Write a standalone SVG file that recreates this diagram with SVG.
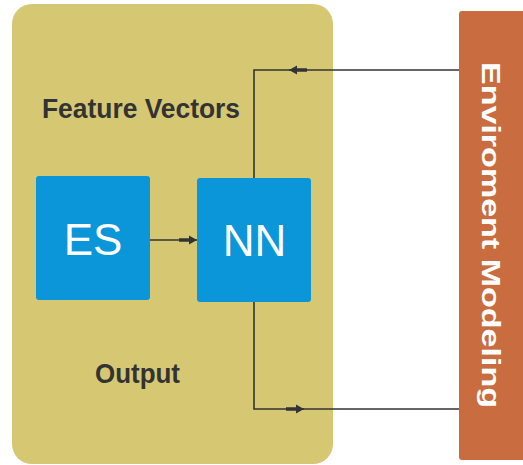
<svg xmlns="http://www.w3.org/2000/svg" width="523" height="465" viewBox="0 0 523 465">
  <style>
    .panel { fill: #D6C873; }
    .block { fill: #0A96D8; }
    .env { fill: #C96D40; }
    .label { font-family: "Liberation Sans", Arial, sans-serif; font-weight: bold; fill: #333333; font-size: 27px; }
    .blocktext { font-family: "Liberation Sans", Arial, sans-serif; fill: #FFFFFF; font-size: 44px; text-anchor: middle; }
    .envtext { font-family: "Liberation Sans", Arial, sans-serif; font-weight: bold; fill: #FFFFFF; font-size: 26px; }
    .wire { fill: none; stroke: #333333; stroke-width: 1.6; }
  </style>
  <defs>
    <marker id="arrow" viewBox="0 0 18 10" refX="18" refY="5" markerWidth="18" markerHeight="10" markerUnits="userSpaceOnUse" orient="auto">
      <path d="M0,3.2 L10,3.2 L10,0.5 L18,5 L10,9.5 L10,6.8 L0,6.8 Z" fill="#333333"/>
    </marker>
  </defs>

  <!-- processing panel -->
  <g id="panel">
    <rect class="panel" x="12" y="4" width="321" height="460" rx="20" ry="20"/>
    <text class="label" x="42" y="118" textLength="198" lengthAdjust="spacingAndGlyphs">Feature Vectors</text>
    <text class="label" x="95" y="383" textLength="85" lengthAdjust="spacingAndGlyphs">Output</text>
  </g>

  <!-- environment modeling bar -->
  <g id="environment">
    <rect class="env" x="459" y="11" width="70" height="449" rx="3" ry="3"/>
    <text class="envtext" transform="translate(482,62) rotate(90)" textLength="346" lengthAdjust="spacingAndGlyphs">Enviroment Modeling</text>
  </g>

  <!-- ES block -->
  <g id="es">
    <rect class="block" x="36" y="176" width="114" height="124" rx="3" ry="3"/>
    <text class="blocktext" x="93" y="255">ES</text>
  </g>

  <!-- NN block -->
  <g id="nn">
    <rect class="block" x="197" y="178" width="114" height="124" rx="3" ry="3"/>
    <text class="blocktext" x="254.5" y="256">NN</text>
  </g>

  <!-- connectors -->
  <g id="connectors">
    <!-- ES to NN -->
    <path class="wire" d="M150,240 L197,240" marker-end="url(#arrow)"/>
    <!-- environment back to NN -->
    <path class="wire" d="M459,70 L289,70" marker-end="url(#arrow)"/>
    <path class="wire" d="M290,70 L254,70 L254,178"/>
    <!-- NN output to environment -->
    <path class="wire" d="M254,302 L254,409 L304,409" marker-end="url(#arrow)"/>
    <path class="wire" d="M303,409 L459,409"/>
  </g>
</svg>
